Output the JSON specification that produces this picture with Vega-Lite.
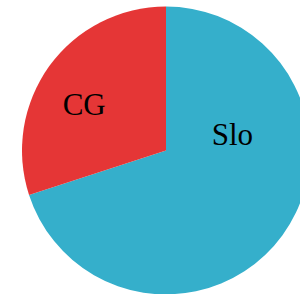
{
  "$schema": "https://vega.github.io/schema/vega-lite/v6.json",
  "autosize": "none",
  "padding": 0,
  "width": 332,
  "height": 301,
  "background": "white",
  "view": {"stroke": null},
  "data": {"values": [
    {"name": "Slo", "value": 70, "rank": 1},
    {"name": "CG", "value": 30, "rank": 2}
  ]},
  "layer": [
    {
      "mark": {"type": "arc", "outerRadius": 144},
      "encoding": {
        "theta": {"field": "value", "type": "quantitative", "stack": true},
        "order": {"field": "rank", "type": "quantitative"},
        "color": {"field": "name", "type": "nominal", "legend": null,
          "scale": {"domain": ["Slo", "CG"], "range": ["#35AFCB", "#E53636"]}}
      }
    },
    {
      "mark": {"type": "text", "font": "Liberation Serif", "fontSize": 31, "color": "black", "align": "center", "baseline": "middle"},
      "encoding": {
        "theta": {"field": "name", "type": "nominal", "scale": {"domain": ["Slo", "CG"], "range": [1.349, 5.208]}},
        "radius": {"field": "name", "type": "nominal", "scale": {"domain": ["Slo", "CG"], "range": [68, 93]}},
        "text": {"field": "name", "type": "nominal"}
      }
    }
  ],
  "resolve": {"scale": {"theta": "independent", "radius": "independent"}}
}
